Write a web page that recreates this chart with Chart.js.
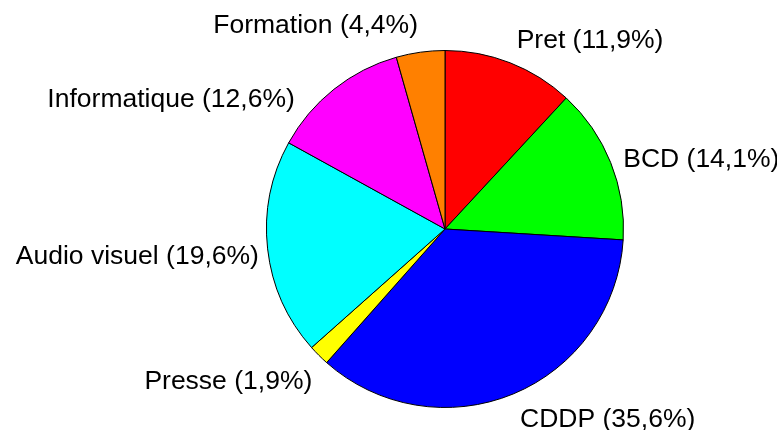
<!DOCTYPE html>
<html>
<head>
<meta charset="utf-8">
<script src="https://cdn.jsdelivr.net/npm/chart.js@4"></script>
<style>
  html, body { margin: 0; padding: 0; background: #fff; }
  #camembert { display: block; }
</style>
</head>
<body>
<canvas id="camembert" width="777" height="430"></canvas>
<script>
const categories = ['Pret', 'BCD', 'CDDP', 'Presse', 'Audio visuel', 'Informatique', 'Formation'];
const parts = [11.9, 14.1, 35.6, 1.9, 19.6, 12.6, 4.4];
const couleurs = ['#ff0000', '#00ff00', '#0000ff', '#ffff00', '#00ffff', '#ff00ff', '#ff8000'];

// petits decalages des etiquettes (dx, dy) pour coller au modele
const decalages = [[0, -5], [-4, 4], [0, 9], [6, 14], [9, 6], [-28, 24], [0, -9]];

function formatPart(v) {
  return v.toFixed(1).replace('.', ',') + '%';
}

const etiquettes = {
  id: 'etiquettes',
  afterDatasetsDraw(chart) {
    const ctx = chart.ctx;
    const meta = chart.getDatasetMeta(0);
    ctx.save();
    ctx.font = '26.5px "Liberation Sans", Arial, sans-serif';
    ctx.fillStyle = '#000';
    ctx.textBaseline = 'middle';
    meta.data.forEach((arc, i) => {
      const p = arc.getProps(['x', 'y', 'startAngle', 'endAngle', 'outerRadius'], true);
      const milieu = (p.startAngle + p.endAngle) / 2;
      const r = p.outerRadius * 1.1;
      const x = p.x + Math.cos(milieu) * r + decalages[i][0];
      const y = p.y + Math.sin(milieu) * r + decalages[i][1];
      ctx.textAlign = Math.cos(milieu) >= 0 ? 'left' : 'right';
      ctx.fillText(categories[i] + ' (' + formatPart(parts[i]) + ')', x, y);
    });
    ctx.restore();
  }
};

const camembert = new Chart(document.querySelector('#camembert'), {
  type: 'pie',
  data: {
    labels: categories,
    datasets: [{
      data: parts,
      backgroundColor: couleurs,
      borderColor: '#000',
      borderWidth: 1
    }]
  },
  options: {
    responsive: false,
    animation: false,
    layout: { padding: { left: 266, right: 153, top: 50, bottom: 22 } },
    plugins: {
      legend: { display: false },
      tooltip: { enabled: false }
    }
  },
  plugins: [etiquettes]
});
</script>
</body>
</html>
